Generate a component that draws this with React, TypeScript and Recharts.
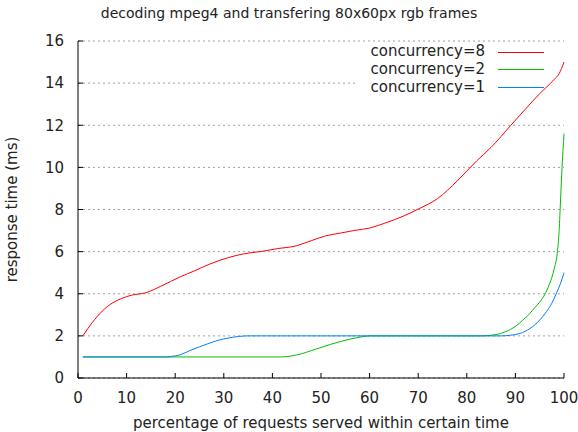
import { CartesianGrid, Legend, Line, LineChart, XAxis, YAxis } from "recharts";

// percentile (x) vs response time in ms (y)
const c8X = [1, 3, 5, 7, 9, 11, 14, 17, 21, 24, 27, 31, 34, 38, 41, 45, 48, 51, 54, 57, 60, 63, 67, 70, 74, 78, 82, 85, 89, 92, 95, 98, 99, 100];
const c8Y = [2.0, 2.65, 3.18, 3.55, 3.78, 3.93, 4.05, 4.35, 4.8, 5.09, 5.4, 5.72, 5.89, 6.02, 6.14, 6.28, 6.52, 6.75, 6.88, 7.01, 7.12, 7.34, 7.69, 8.02, 8.52, 9.35, 10.3, 10.95, 11.98, 12.75, 13.5, 14.18, 14.45, 15.0];

const c2X = [1, 42, 44, 46, 48, 50, 52, 54, 56, 58, 60, 83, 86, 88, 90, 92, 93, 94, 95, 96, 97, 98, 98.6, 99, 99.3, 99.6, 100];
const c2Y = [1.0, 1.0, 1.05, 1.15, 1.3, 1.45, 1.6, 1.73, 1.85, 1.94, 2.0, 2.0, 2.06, 2.2, 2.45, 2.85, 3.07, 3.35, 3.6, 3.95, 4.45, 5.2, 5.9, 7.0, 8.5, 10.0, 11.6];

const c1X = [1, 18, 19, 21, 23, 25, 27, 29, 31, 33, 35, 87, 89, 91, 93, 95, 96.4, 97.5, 98.5, 99.3, 100];
const c1Y = [1.0, 1.0, 1.02, 1.1, 1.3, 1.48, 1.65, 1.8, 1.9, 1.97, 2.0, 2.0, 2.03, 2.12, 2.35, 2.75, 3.15, 3.55, 4.05, 4.5, 5.0];

const seriesNames = ["concurrency=8", "concurrency=2", "concurrency=1"];
const seriesColors = ["#ff0000", "#00c000", "#0080ff"];

const xTicks = [0, 10, 20, 30, 40, 50, 60, 70, 80, 90, 100];
const yTicks = [0, 2, 4, 6, 8, 10, 12, 14, 16];

const zip = (xs: number[], ys: number[]) => xs.map((x, i) => ({ x, y: ys[i] }));
const series = [zip(c8X, c8Y), zip(c2X, c2Y), zip(c1X, c1Y)];

const FONT = "DejaVu Sans";
const TXT = "#222";
const FS = 15;

// the key is opaque over the grid (but not over the curves)
const KEY_LEFT = 357;
const KEY_TOP = 43.3;
const KEY_BOTTOM = 97;

const gridLine = (p: any) => {
  const underKey = p.y1 > KEY_TOP && p.y1 < KEY_BOTTOM;
  return (
    <line
      key={p.key}
      x1={p.x1}
      x2={underKey ? KEY_LEFT : p.x2}
      y1={p.y1}
      y2={p.y2}
      stroke="#a0a0a0"
      strokeDasharray="2 3"
    />
  );
};

// key in gnuplot style: name right-aligned, sample line to the right
const KeyBox = () => (
  <div style={{ fontFamily: FONT, fontSize: FS, color: TXT }}>
    {seriesNames.map((name, i) => (
      <div key={name} style={{ display: "flex", alignItems: "center", height: 17.7, lineHeight: "17.7px" }}>
        <span style={{ width: 128, textAlign: "right", whiteSpace: "nowrap" }}>{name}</span>
        <span style={{ marginLeft: 13, width: 46, height: 1, background: seriesColors[i] }} />
      </div>
    ))}
  </div>
);

export default function App() {
  return (
    <div style={{ position: "absolute", top: 0, left: 0, width: 578, height: 432, background: "#fff" }}>
      <div
        style={{
          position: "absolute",
          top: 5,
          left: 0,
          width: 578,
          textAlign: "center",
          fontFamily: FONT,
          fontSize: 14,
          color: TXT,
        }}
      >
        decoding mpeg4 and transfering 80x60px rgb frames
      </div>
      <LineChart
        width={578}
        height={432}
        margin={{ top: 41, right: 14, bottom: 0, left: 0 }}
        style={{ fontFamily: FONT }}
      >
        <CartesianGrid vertical={false} horizontal={gridLine} />
        <XAxis
          dataKey="x"
          type="number"
          domain={[0, 100]}
          ticks={xTicks}
          height={54}
          tickSize={-5}
          tickMargin={19}
          axisLine={{ stroke: "#000" }}
          tickLine={{ stroke: "#000" }}
          tick={{ fontSize: FS, fill: TXT }}
          label={{
            value: "percentage of requests served within certain time",
            position: "insideBottom",
            offset: 4,
            style: { fontSize: FS, fill: TXT },
          }}
        />
        <XAxis
          xAxisId="top"
          orientation="top"
          type="number"
          domain={[0, 100]}
          ticks={xTicks}
          height={0}
          tickSize={-5}
          tick={false}
          axisLine={{ stroke: "#000" }}
          tickLine={{ stroke: "#000" }}
        />
        <YAxis
          type="number"
          domain={[0, 16]}
          ticks={yTicks}
          width={78}
          tickSize={-5}
          tickMargin={19}
          axisLine={{ stroke: "#000" }}
          tickLine={{ stroke: "#000" }}
          tick={{ fontSize: FS, fill: TXT }}
          label={{
            value: "response time (ms)",
            angle: -90,
            position: "insideLeft",
            offset: 12,
            style: { textAnchor: "middle", fontSize: FS, fill: TXT },
          }}
        />
        <YAxis
          yAxisId="right"
          orientation="right"
          type="number"
          domain={[0, 16]}
          ticks={yTicks}
          width={0}
          tickSize={-5}
          tick={false}
          axisLine={{ stroke: "#000" }}
          tickLine={{ stroke: "#000" }}
        />
        {series.map((d, i) => (
          <Line
            key={seriesNames[i]}
            data={d}
            dataKey="y"
            name={seriesNames[i]}
            type="monotone"
            stroke={seriesColors[i]}
            strokeWidth={1}
            dot={false}
            activeDot={false}
            isAnimationActive={false}
          />
        ))}
        <Legend
          layout="vertical"
          align="center"
          verticalAlign="middle"
          content={KeyBox}
          wrapperStyle={{ top: KEY_TOP, left: KEY_LEFT, width: 191, height: 54 }}
        />
      </LineChart>
    </div>
  );
}
